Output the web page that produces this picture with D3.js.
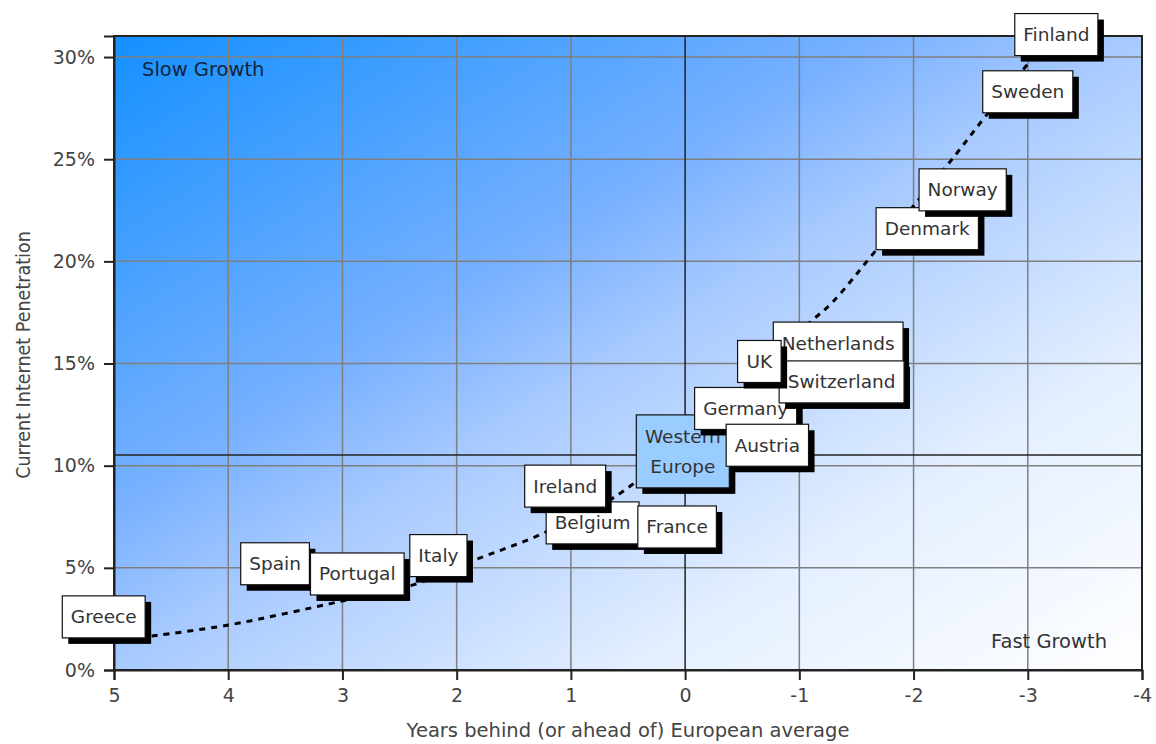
<!DOCTYPE html>
<html>
<head>
<meta charset="utf-8">
<script src="https://cdn.jsdelivr.net/npm/d3@7"></script>
<style>
  body { margin: 0; background: #fff; }
  svg { display: block; font-family: "DejaVu Sans", sans-serif; }
</style>
</head>
<body>
<div id="chart"></div>
<script>
// countries, drawn in this order so the overlaps come out right
const countries = ["Greece", "Spain", "Portugal", "Italy", "Belgium", "Ireland", "France",
  "Western Europe", "Germany", "Austria", "Netherlands", "Switzerland", "UK",
  "Denmark", "Norway", "Sweden", "Finland"];
// years behind (+) or ahead (-) of the European average
const yearsBehind = [5.09, 3.59, 2.87, 2.16, 0.81, 1.05, 0.07,
  0.02, -0.53, -0.72, -1.34, -1.37, -0.65,
  -2.12, -2.43, -3.0, -3.25];
// current internet penetration, %
const penetration = [2.6, 5.2, 4.7, 5.6, 7.2, 9.0, 7.0,
  10.7, 12.8, 11.0, 16.0, 14.1, 15.1,
  21.6, 23.5, 28.3, 31.1];

// dotted trend line
const trendX = [4.67, 4.0, 3.0, 2.36, 1.88, 1.24, 0.53, -1.09, -1.29, -1.68, -2.28, -2.63, -3.02];
const trendY = [1.66, 2.2, 3.38, 4.2, 5.3, 6.7, 8.8, 17.0, 18.0, 20.6, 24.6, 27.1, 29.8];

const averageLine = 10.52; // Western Europe penetration
const xTicks = [5, 4, 3, 2, 1, 0, -1, -2, -3, -4];
const yTicks = [0, 5, 10, 15, 20, 25, 30];

const width = 1156, height = 744;
const margin = {top: 36, right: 14, bottom: 74, left: 114};
const innerW = width - margin.left - margin.right;
const innerH = height - margin.top - margin.bottom;

const svg = d3.select("#chart").append("svg")
  .attr("width", width)
  .attr("height", height);

const defs = svg.append("defs");
const grad = defs.append("linearGradient")
  .attr("id", "bg")
  .attr("x1", 0).attr("y1", 0).attr("x2", 1).attr("y2", 1);
[["0%", "#1490ff"], ["37%", "#77b0ff"], ["50%", "#a8caff"], ["75%", "#e4efff"], ["100%", "#ffffff"]]
  .forEach(s => grad.append("stop").attr("offset", s[0]).attr("stop-color", s[1]));

const g = svg.append("g").attr("transform", `translate(${margin.left},${margin.top})`);

const x = d3.scaleLinear().domain([5, -4]).range([0, innerW]);
const y = d3.scaleLinear().domain([0, 31.03]).range([innerH, 0]);

// background
g.append("rect")
  .attr("width", innerW).attr("height", innerH)
  .attr("fill", "url(#bg)");

// grid
g.append("g").selectAll("line").data(yTicks.filter(d => d > 0)).join("line")
  .attr("x1", 0).attr("x2", innerW)
  .attr("y1", d => y(d)).attr("y2", d => y(d))
  .attr("stroke", "#7f7f7f").attr("stroke-width", 1.5);
g.append("g").selectAll("line").data(xTicks.filter(d => d !== 5 && d !== -4 && d !== 0)).join("line")
  .attr("y1", 0).attr("y2", innerH)
  .attr("x1", d => x(d)).attr("x2", d => x(d))
  .attr("stroke", "#7f7f7f").attr("stroke-width", 1.5);

// zero line and average line
g.append("line")
  .attr("x1", x(0)).attr("x2", x(0)).attr("y1", 0).attr("y2", innerH)
  .attr("stroke", "#222").attr("stroke-width", 1.5);
g.append("line")
  .attr("x1", 0).attr("x2", innerW).attr("y1", y(averageLine)).attr("y2", y(averageLine))
  .attr("stroke", "#222").attr("stroke-width", 1.5);

// border
g.append("rect")
  .attr("width", innerW).attr("height", innerH)
  .attr("fill", "none").attr("stroke", "#222").attr("stroke-width", 2);

// axes
const xAxis = g.append("g")
  .attr("transform", `translate(0,${innerH})`)
  .call(d3.axisBottom(x).tickValues(xTicks).tickSize(10).tickPadding(6).tickFormat(d => String(d)));
const yAxis = g.append("g")
  .call(d3.axisLeft(y).tickValues(yTicks).tickSize(10).tickPadding(9).tickFormat(d => d + "%"));
[xAxis, yAxis].forEach(a => {
  a.select(".domain").attr("stroke", "#222").attr("stroke-width", 2);
  a.selectAll(".tick line").attr("stroke", "#222").attr("stroke-width", 2);
  a.selectAll(".tick text")
    .attr("fill", "#444")
    .style("font-family", "'DejaVu Sans', sans-serif")
    .style("font-size", "19px");
});
xAxis.selectAll(".tick text").attr("dy", "0.85em");

// axis titles
svg.append("text")
  .attr("x", margin.left + x(0.5)).attr("y", 737)
  .attr("text-anchor", "middle")
  .attr("fill", "#444").style("font-size", "19.5px")
  .text("Years behind (or ahead of) European average");
svg.append("text")
  .attr("transform", `translate(30,355) rotate(-90)`)
  .attr("text-anchor", "middle")
  .attr("fill", "#444")
  .style("font-family", "'DejaVu Sans Condensed', 'DejaVu Sans', sans-serif")
  .style("font-size", "19.5px")
  .text("Current Internet Penetration");

// corner notes
g.append("text")
  .attr("x", 28).attr("y", 40)
  .attr("fill", "#10243c").style("font-size", "19.5px")
  .text("Slow Growth");
g.append("text")
  .attr("x", innerW - 35).attr("y", 612)
  .attr("text-anchor", "end")
  .attr("fill", "#333").style("font-size", "19.5px")
  .text("Fast Growth");

// trend line
const trend = d3.zip(trendX, trendY);
g.append("path")
  .datum(trend)
  .attr("fill", "none")
  .attr("stroke", "#000")
  .attr("stroke-width", 3)
  .attr("stroke-dasharray", "6,6")
  .attr("d", d3.line().x(d => x(d[0])).y(d => y(d[1])).curve(d3.curveCatmullRom));

// labels
const labels = g.append("g");
countries.forEach((name, i) => {
  const lines = name === "Western Europe" ? ["Western", "Europe"] : [name];
  const lab = labels.append("g")
    .attr("transform", `translate(${x(yearsBehind[i])},${y(penetration[i])})`);
  const shadow = lab.append("rect").attr("fill", "#000");
  const box = lab.append("rect")
    .attr("fill", name === "Western Europe" ? "#99ccff" : "#fff")
    .attr("stroke", "#111").attr("stroke-width", 1.2);
  const txt = lab.append("text")
    .attr("text-anchor", "middle")
    .attr("fill", "#333")
    .style("font-size", "18.5px");
  lines.forEach((l, k) => {
    txt.append("tspan")
      .attr("x", 0)
      .attr("y", (k - (lines.length - 1) / 2) * 30)
      .attr("dy", "0.35em")
      .text(l);
  });
  let w = txt.node().getBBox().width + 17;
  if (name === "Western Europe") w = 93;
  const h = lines.length > 1 ? 73 : 42;
  box.attr("x", -w / 2).attr("y", -h / 2).attr("width", w).attr("height", h);
  shadow.attr("x", -w / 2 + 6).attr("y", -h / 2 + 6).attr("width", w).attr("height", h);
});
</script>
</body>
</html>
